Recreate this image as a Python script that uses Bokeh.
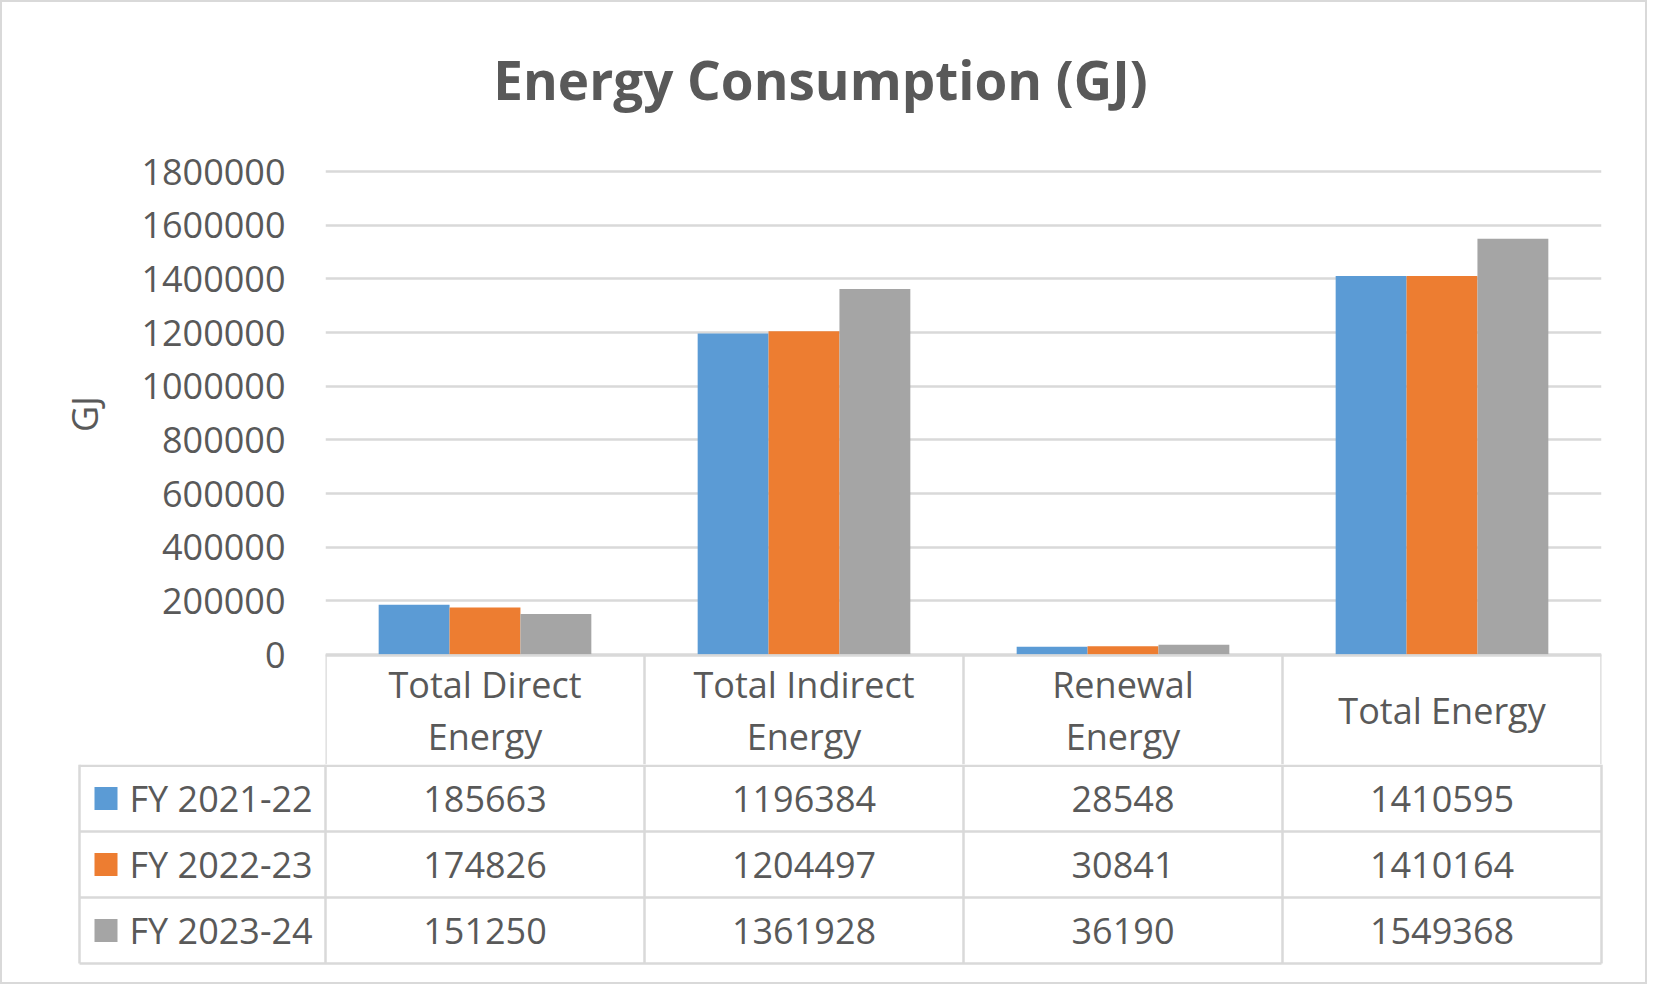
from bokeh.plotting import figure
from bokeh.models import (ColumnDataSource, Range1d, FixedTicker,
                          NumeralTickFormatter, Title)
from bokeh.transform import dodge
from bokeh.embed import file_html
from bokeh.resources import INLINE
from bokeh.core.properties import value

# ---------------- data ----------------
title_text = "Energy Consumption (GJ)"
categories = ["Total Direct Energy", "Total Indirect Energy", "Renewal Energy", "Total Energy"]
header_labels = ["Total Direct\nEnergy", "Total Indirect\nEnergy", "Renewal\nEnergy", "Total Energy"]
series_names = ["FY 2021-22", "FY 2022-23", "FY 2023-24"]
fy_2021_22 = [185663, 1196384, 28548, 1410595]
fy_2022_23 = [174826, 1204497, 30841, 1410164]
fy_2023_24 = [151250, 1361928, 36190, 1549368]
y_ticks = [0, 200000, 400000, 600000, 800000, 1000000, 1200000, 1400000, 1600000, 1800000]
colors = ["#5B9BD5", "#ED7D31", "#A5A5A5"]

series_values = [fy_2021_22, fy_2022_23, fy_2023_24]

# ---------------- layout constants (pixels) ----------------
FONT = "Open Sans"
TXT = "#595959"
GRID = "#D9D9D9"
BORDER = 2
W = 1647
OX = BORDER                      # absolute x of figure canvas origin
OY = BORDER
FRAME_L, FRAME_R = 325, 1601     # absolute frame edges (x)
TOP_GRID, AXIS_Y = 171, 654      # absolute y of top gridline / zero line
HEADER_B = 766                   # absolute y of the table's header-row bottom
PAGE_B = 986
H1 = HEADER_B - OY
H2 = PAGE_B - HEADER_B
GJ_CENTER = 413                  # absolute y of the y-axis title centre
TITLE_X, TITLE_Y = 820, 79       # absolute centre of the chart title

n = len(categories)
unit = (FRAME_R - FRAME_L) / n
cat_center = [i + 0.5 for i in range(n)]   # category slots on the category scale
src = ColumnDataSource(dict(cat=categories, xc=cat_center,
                            s0=fy_2021_22, s1=fy_2022_23, s2=fy_2023_24))

gj_per_px = y_ticks[-1] / (AXIS_Y - TOP_GRID)
header_h = HEADER_B - AXIS_Y

p = figure(x_range=Range1d(0, n),
           y_range=Range1d(-header_h * gj_per_px, (AXIS_Y - OY) * gj_per_px),
           width=W, height=H1, output_backend="svg", toolbar_location=None,
           x_axis_location=None,
           min_border_left=FRAME_L - OX, min_border_right=OX + W - FRAME_R,
           min_border_top=0, min_border_bottom=0,
           styles={"border-top": f"{BORDER}px solid {GRID}",
                   "border-left": f"{BORDER}px solid {GRID}",
                   "border-right": f"{BORDER}px solid {GRID}"})
p.outline_line_color = None
p.background_fill_color = "white"
p.border_fill_color = "white"
# pixel offsets below the category axis line (title and table header row)
p.extra_y_ranges = {"px": Range1d(header_h, -(AXIS_Y - OY))}

p.xgrid.grid_line_color = None
p.ygrid.ticker = FixedTicker(ticks=y_ticks)
p.ygrid.grid_line_color = GRID
p.ygrid.grid_line_width = 2.5

bar_w = 1 / 4.5
for i, key in enumerate(["s0", "s1", "s2"]):
    p.vbar(x=dodge("xc", (i - 1) * bar_w), top=key, width=bar_w,
           bottom=0, source=src, fill_color=colors[i], line_color=None)

ax = p.yaxis[0]
ax.ticker = FixedTicker(ticks=y_ticks)
ax.formatter = NumeralTickFormatter(format="0")
ax.axis_line_color = None
ax.major_tick_line_color = None
ax.minor_tick_line_color = None
ax.major_tick_out = 0
ax.major_tick_in = 0
ax.major_label_standoff = 40
ax.major_label_text_font = FONT
ax.major_label_text_font_size = "36px"
ax.major_label_text_color = TXT

# y-axis title, centred on the value area (not on the header row below it)
gj_len = 37
p.add_layout(Title(text="GJ", align="left", vertical_align="bottom",
                   offset=HEADER_B - (GJ_CENTER + gj_len / 2), standoff=60,
                   text_font=FONT, text_font_size="36px", text_font_style="normal",
                   text_color=TXT), "left")

# chart title
p.text(x=[(TITLE_X - FRAME_L) / unit], y=[TITLE_Y - AXIS_Y], y_range_name="px",
       text=[title_text], text_font=value(FONT), text_font_size="53px",
       text_font_style="bold", text_color=TXT, text_align="center",
       text_baseline="middle")

# header row of the data table
p.segment(x0=[0], y0=[1], x1=[n], y1=[1], y_range_name="px",
          line_color=GRID, line_width=2.5)
p.segment(x0=list(range(n + 1)), y0=[0] * (n + 1), x1=list(range(n + 1)),
          y1=[header_h] * (n + 1), y_range_name="px", line_color=GRID, line_width=2.5)
p.text(x=cat_center, y=[header_h / 2] * n, y_range_name="px",
       text=header_labels, text_font=value(FONT), text_font_size="36px",
       text_color=TXT, text_align="center", text_baseline="middle", text_line_height=1.05)

# ---------------- data table rows ----------------
x_start = (OX - FRAME_L) / unit
x_end = n + (OX + W - FRAME_R) / unit

t = figure(x_range=Range1d(x_start, x_end), y_range=Range1d(H2, 0),
           width=W, height=H2, output_backend="svg", toolbar_location=None,
           x_axis_location=None, y_axis_location=None, min_border=0,
           styles={"border-bottom": f"{BORDER}px solid {GRID}",
                   "border-left": f"{BORDER}px solid {GRID}",
                   "border-right": f"{BORDER}px solid {GRID}"})
t.outline_line_color = None
t.grid.visible = False
t.background_fill_color = "white"
t.border_fill_color = "white"

row_edges = [1.2, 833 - HEADER_B, 899 - HEADER_B, 965 - HEADER_B]
legend_left = (79 - FRAME_L) / unit

t.segment(x0=[legend_left] * len(row_edges), y0=row_edges, x1=[n] * len(row_edges),
          y1=row_edges, line_color=GRID, line_width=2.5)
vx = [legend_left] + list(range(n + 1))
t.segment(x0=vx, y0=[0] * len(vx), x1=vx, y1=[row_edges[-1]] * len(vx),
          line_color=GRID, line_width=2.5)

row_centers = [(row_edges[r] + row_edges[r + 1]) / 2 for r in range(3)]
vxs, vys, vtx = [], [], []
for r, vals in enumerate(series_values):
    for c, v in enumerate(vals):
        vxs.append(cat_center[c])
        vys.append(row_centers[r])
        vtx.append(str(v))
t.text(x=vxs, y=vys, text=vtx, text_font=value(FONT), text_font_size="36px",
       text_color=TXT, text_align="center", text_baseline="middle")

key_x = (105.5 - FRAME_L) / unit
t.scatter(x=[key_x] * 3, y=row_centers, marker="square", size=23,
          fill_color=colors, line_color=None)
t.text(x=[(129 - FRAME_L) / unit] * 3, y=row_centers, text=series_names,
       text_font=value(FONT), text_font_size="36px", text_color=TXT,
       text_align="left", text_baseline="middle")

open("out.html", "w").write(file_html([p, t], INLINE))
